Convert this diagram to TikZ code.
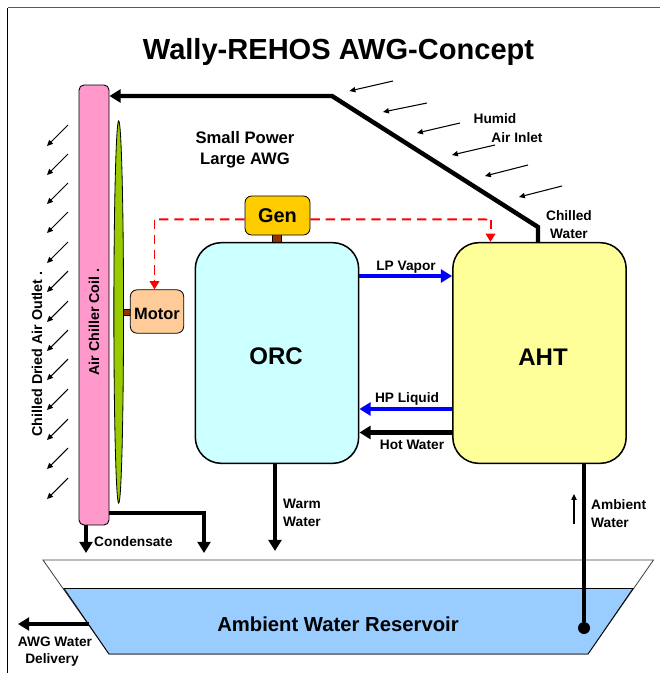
\documentclass[tikz,border=0pt]{standalone}
\usepackage{fontspec}
\setmainfont{Liberation Sans}
\usetikzlibrary{arrows.meta,shapes.geometric}
\tikzset{
  lbl/.style={font=\fontsize{11.7}{13}\selectfont\bfseries,inner sep=0pt,align=center},
  midlbl/.style={font=\fontsize{14}{16}\selectfont\bfseries,inner sep=0pt,align=center},
  biglbl/.style={font=\fontsize{20.5}{24}\selectfont\bfseries,inner sep=0pt},
  unit/.style={draw,line width=1.3pt,rounded corners=0.78cm,minimum width=4.9cm,minimum height=6.62cm},
  pipe/.style={line width=3.8pt,-{Triangle[length=9.5pt,width=11pt]}},
  flow/.style={line width=3.8pt,blue,-{Triangle[length=9.5pt,width=11pt]}},
  signal/.style={draw=red,line width=1.7pt,dash pattern=on 8pt off 5pt},
  signaltip/.style={signal,-{Triangle[length=7pt,width=8pt,fill=red]}},
  air/.style={line width=0.9pt,-{Triangle[length=5pt,width=4.5pt]}}
}
\definecolor{coilpink}{HTML}{FF99CC}
\definecolor{fangreen}{HTML}{99CC00}
\definecolor{motorpeach}{HTML}{FFCC99}
\definecolor{gengold}{HTML}{FFCC00}
\definecolor{shaftbrown}{HTML}{993300}
\definecolor{orccyan}{HTML}{CCFFFF}
\definecolor{ahtyellow}{HTML}{FFFF99}
\definecolor{waterblue}{HTML}{99CCFF}
\begin{document}
\begin{tikzpicture}[x=0.03cm,y=-0.03cm]
\useasboundingbox (0,0) rectangle (660,673);
% frame
\coordinate (framebl) at (7.5,673);
\coordinate (frametl) at (7.5,7.5);
\coordinate (frametr) at (660,7.5);
\draw[line width=0.8pt] (framebl) -- (frametl);
\draw[line width=1.1pt,black!65] (frametl) -- (frametr);
\node[font=\fontsize{24.8}{28}\selectfont\bfseries,inner sep=0pt] (title) at (338.5,51.5) {Wally-REHOS AWG-Concept};
% reservoir
\draw[line width=0.7pt,black!75] (43,560) -- (653.5,560) -- (588,654) -- (109,654) -- cycle;
\draw[line width=0.7pt,fill=waterblue] (64,588.5) -- (633,588.5) -- (588,654) -- (109,654) -- cycle;
\node[font=\fontsize{17.3}{20}\selectfont\bfseries,inner sep=0pt] (resv) at (338,624.5) {Ambient Water Reservoir};
% shafts behind the boxes
\node[draw,line width=0.3pt,fill=shaftbrown,minimum width=0.2cm,minimum height=0.18cm,inner sep=0pt] (fanshaft) at (127,312) {};
\node[draw,line width=0.3pt,fill=shaftbrown,minimum width=0.27cm,minimum height=0.3cm,inner sep=0pt] (genshaft) at (276.5,238) {};
% coil, fan, motor, generator
\node[draw,line width=0.8pt,fill=coilpink,rounded corners=0.15cm,minimum width=0.9cm,minimum height=13.2cm] (coil) at (94,305) {};
\node[lbl,rotate=90,font=\fontsize{12.2}{14}\selectfont\bfseries] (coillbl) at (94,322) {Air Chiller Coil .};
\node[draw,ellipse,line width=0.7pt,fill=fangreen,minimum width=0.29cm,minimum height=11.46cm,inner sep=0pt] (fan) at (118.7,312) {};
\node[draw,line width=0.7pt,fill=motorpeach,rounded corners=0.2cm,minimum width=1.6cm,minimum height=1.3cm] (motor) at (157,311.5) {};
\node[midlbl] (motorlbl) at (157,314) {Motor};
\node[draw,line width=0.7pt,fill=gengold,rounded corners=0.2cm,minimum width=1.95cm,minimum height=1.17cm,font=\fontsize{17}{20}\selectfont\bfseries] (gen) at (277.5,215.5) {Gen};
% main units
\node[unit,fill=orccyan] (orc) at (277,353) {};
\node[biglbl] (orclbl) at (276,356.5) {ORC};
\node[unit,fill=ahtyellow,minimum width=5.2cm] (aht) at (539.5,353) {};
\node[biglbl] (ahtlbl) at (543,357) {AHT};
% signal lines
\coordinate (sigl) at (154.5,219.5);
\coordinate (sigr) at (490.5,219.5);
\draw[signal] ([yshift=0.2pt]gen.west |- sigl) -- (sigl);
\draw[signaltip] (sigl) -- (sigl |- motor.north);
\draw[signal] ([yshift=0.2pt]gen.east |- sigr) -- (sigr);
\draw[signaltip] (sigr) -- (sigr |- aht.north);
% water and air lines
\coordinate (chillbend) at (538,227);
\coordinate (coilbend) at (332,96);
\draw[pipe,line join=miter] (chillbend |- aht.north) -- (chillbend) -- (coilbend) -- (coilbend -| coil.east);
\coordinate (drainbend) at (204,513);
\coordinate (draintip) at (204,553);
\coordinate (condtip) at (86,553);
\coordinate (warmtip) at (275,551);
\draw[pipe] (drainbend -| coil.east) -- (drainbend) -- (draintip);
\draw[pipe] (condtip |- coil.south) -- (condtip);
\draw[pipe] (warmtip |- orc.south) -- (warmtip);
\coordinate (lpy) at (400,276);
\coordinate (hpy) at (400,409);
\coordinate (hoty) at (400,432.5);
\draw[flow] (lpy -| orc.east) -- (lpy -| aht.west);
\draw[flow] (hpy -| aht.west) -- (hpy -| orc.east);
\draw[pipe] (hoty -| aht.west) -- (hoty -| orc.east);
\node[circle,fill=black,minimum size=0.36cm,inner sep=0pt] (intake) at (584,628) {};
\draw[line width=3.8pt] (intake |- aht.south) -- (intake);
\coordinate (outlet) at (89,624);
\coordinate (delivery) at (18,624);
\draw[pipe] (outlet) -- (delivery);
\coordinate (upa) at (574,524);
\coordinate (upb) at (574,494);
\draw[air] (upa) -- (upb);
% humid air arrows
\foreach \tx/\ty/\hx/\hy [count=\i] in {393/81/349.5/91,427/103/383/112,460/123/417/133,495/145/452/155,528/165/485/176,562/186/519/197}{
  \coordinate (hs\i) at (\tx,\ty);
  \coordinate (he\i) at (\hx,\hy);
  \draw[air] (hs\i) -- (he\i);
}
% dried air arrows
\foreach \ty [count=\i] in {125,154,183,212,242,271,301,330,359,389,419,448,478}{
  \coordinate (ds\i) at (68,\ty);
  \coordinate (de\i) at (47,\ty+21);
  \draw[air] (ds\i) -- (de\i);
}
% labels
\node[midlbl,font=\fontsize{14.2}{16}\selectfont\bfseries] (note1) at (245,137.5) {Small Power};
\node[midlbl,font=\fontsize{14.2}{16}\selectfont\bfseries] (note2) at (245,160.5) {Large AWG};
\node[lbl] (humid) at (495,119) {Humid};
\node[lbl] (inlet) at (517,137.5) {Air Inlet};
\node[lbl] (chilled1) at (569,216) {Chilled};
\node[lbl] (chilled2) at (569,234) {Water};
\node[lbl] (lplbl) at (406,267) {LP Vapor};
\node[lbl] (hplbl) at (407,399) {HP Liquid};
\node[lbl] (hotlbl) at (412,445) {Hot Water};
\node[lbl,anchor=west] (warm1) at (283,504) {Warm};
\node[lbl,anchor=west] (warm2) at (283,522) {Water};
\node[lbl,anchor=west] (amb1) at (591,505) {Ambient};
\node[lbl,anchor=west] (amb2) at (591,523) {Water};
\node[lbl,anchor=west] (condlbl) at (94,542) {Condensate};
\node[lbl] (awg1) at (55,642) {AWG Water};
\node[lbl] (awg2) at (52,660) {Delivery};
\node[lbl,rotate=90,font=\fontsize{12.2}{14}\selectfont\bfseries] (outletlbl) at (37,354) {Chilled Dried Air Outlet .};
\end{tikzpicture}
\end{document}
